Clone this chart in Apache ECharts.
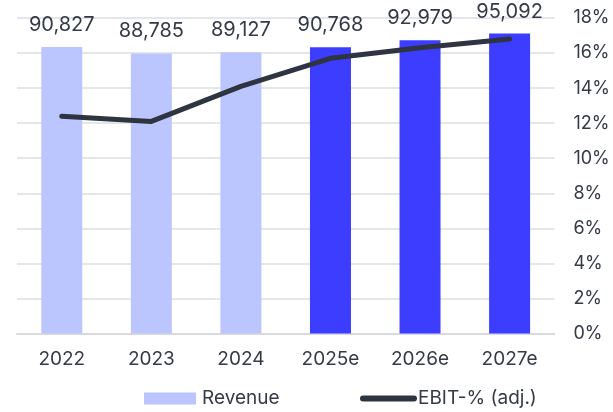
<!DOCTYPE html>
<html><head><meta charset="utf-8">
<script src="https://cdn.jsdelivr.net/npm/echarts@6/dist/echarts.min.js"></script>
<style>html,body{margin:0;padding:0;background:#fff}#c{width:613px;height:412px}</style>
</head><body><div id="c"></div>
<script>
var categories = ['2022','2023','2024','2025e','2026e','2027e'];
var revenue = [90827, 88785, 89127, 90768, 92979, 95092];
var ebitPct = [12.4, 12.1, 14.1, 15.7, 16.3, 16.8];
var forecast = [false, false, false, true, true, true];
var pctTicks = {min: 0, max: 18, interval: 2};

var FONT = 'Inter';
var TXT = '#343a46';
var LINE = '#2e3440';
var chart = echarts.init(document.getElementById('c'), null, {renderer: 'canvas'});
chart.setOption({
  animation: false,
  textStyle: {fontFamily: FONT},
  grid: {left: 17, right: 55, top: 18, bottom: 78.5},
  legend: [{
    left: 139, top: 384, itemWidth: 52, itemHeight: 12,
    textStyle: {fontFamily: FONT, fontSize: 19, color: TXT, padding: [0,0,0,1]},
    data: [{name: 'Revenue', icon: 'rect'}]
  }, {
    left: 355, top: 384, itemWidth: 57, itemHeight: 6,
    textStyle: {fontFamily: FONT, fontSize: 19, color: TXT, padding: [0,0,0,-4]},
    data: [{name: 'EBIT-% (adj.)', icon: 'path://M3,0 H54 A3,3 0 0 1 54,6 H3 A3,3 0 0 1 3,0 Z', itemStyle: {color: LINE}}]
  }],
  xAxis: {
    type: 'category', data: categories,
    axisLine: {lineStyle: {color: '#d8dae0', width: 2}},
    axisTick: {show: false},
    axisLabel: {fontFamily: FONT, fontSize: 19, color: TXT, margin: 16}
  },
  yAxis: [{
    type: 'value', position: 'right', min: pctTicks.min, max: pctTicks.max, interval: pctTicks.interval,
    axisLine: {show: false}, axisTick: {show: false},
    axisLabel: {fontFamily: FONT, fontSize: 18, color: TXT, margin: 19, formatter: '{value}%'},
    splitLine: {lineStyle: {color: '#dcdee5', width: 1.5}}
  }, {
    type: 'value', min: 0, max: 100000, show: false, splitLine: {show: false}
  }],
  series: [{
    name: 'Revenue', type: 'bar', yAxisIndex: 1, barWidth: 41,
    itemStyle: {color: '#bac6fd'},
    label: {show: true, position: 'top', distance: 12, fontFamily: FONT, fontSize: 20, color: TXT,
      formatter: function(p){ return p.value.toLocaleString('en-US'); }},
    data: revenue.map(function(v, i){ return forecast[i] ? {value: v, itemStyle: {color: '#3d3dff'}} : v; })
  }, {
    name: 'EBIT-% (adj.)', type: 'line', yAxisIndex: 0, symbol: 'none',
    lineStyle: {color: LINE, width: 5, cap: 'round', join: 'round'},
    itemStyle: {color: LINE},
    data: ebitPct
  }]
});
</script></body></html>
